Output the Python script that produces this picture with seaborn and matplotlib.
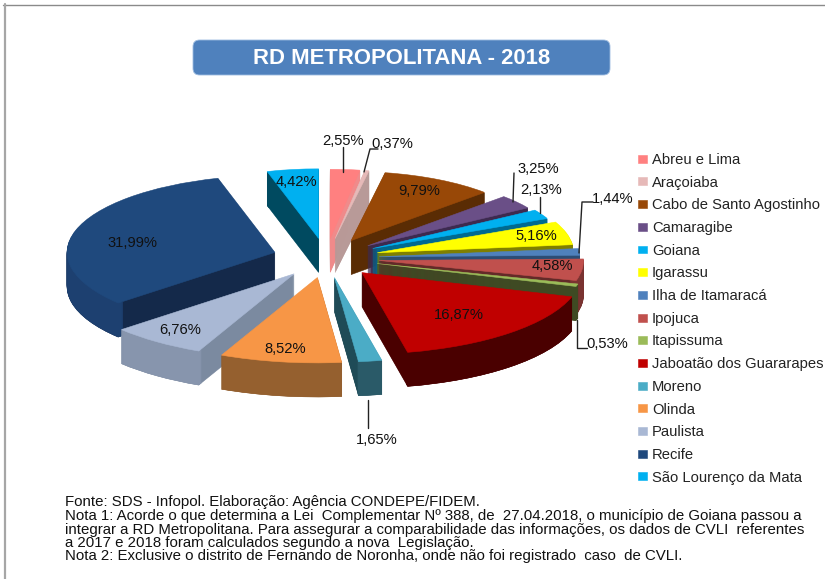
import numpy as np
import matplotlib
matplotlib.use("Agg")
import matplotlib.pyplot as plt
from matplotlib.lines import Line2D
from matplotlib.patches import FancyBboxPatch
import seaborn as sns

municipios = ["Abreu e Lima", "Araçoiaba", "Cabo de Santo Agostinho", "Camaragibe", "Goiana",
              "Igarassu", "Ilha de Itamaracá", "Ipojuca", "Itapissuma", "Jaboatão dos Guararapes",
              "Moreno", "Olinda", "Paulista", "Recife", "São Lourenço da Mata"]
percentuais = [2.55, 0.37, 9.79, 3.25, 2.13, 5.16, 1.44, 4.58, 0.53, 16.87, 1.65, 8.52, 6.76, 31.99, 4.42]
cores_topo = ["#ff8080", "#e6b9b8", "#984807", "#6a4f87", "#00b0f0", "#ffff00", "#4f81bd", "#c0504d",
              "#9bbb59", "#c00000", "#4bacc6", "#f79646", "#a9b8d4", "#1f497d", "#00b0f0"]
cores_radial = ["#f08a8a", "#b89a98", "#5a2c04", "#3d2a4f", "#006a90", "#7f7f00", "#2c4d75", "#632a28",
                "#3f4a23", "#4a0000", "#1f4b57", "#8a5a2c", "#7b8aa0", "#14294a", "#004a60"]
cores_arco = ["#f08a8a", "#b89a98", "#5a2c04", "#3d2a4f", "#006a90", "#7f7f00", "#2c4d75", "#7a3331",
              "#3f4a23", "#4a0000", "#2a5a68", "#95602f", "#8795ad", "#1d4070", "#004a60"]
titulo = "RD METROPOLITANA - 2018"
rodape = ["Fonte: SDS - Infopol. Elaboração: Agência CONDEPE/FIDEM.",
          "Nota 1: Acorde o que determina a Lei  Complementar Nº 388, de  27.04.2018, o município de Goiana passou a",
          "integrar a RD Metropolitana. Para assegurar a comparabilidade das informações, os dados de CVLI  referentes",
          "a 2017 e 2018 foram calculados segundo a nova  Legislação.",
          "Nota 2: Exclusive o distrito de Fernando de Noronha, onde não foi registrado  caso  de CVLI."]

W, H = 825, 579
CX, CY, SX, SY = 326, 258, 205, 76
DEPTH_PX = 34
EXPLODE = 0.26

sns.set_theme(style="white")
plt.rcParams["font.family"] = ["Liberation Sans", "DejaVu Sans"]

fig = plt.figure(figsize=(W / 100, H / 100), dpi=100, facecolor="white")
ax = fig.add_axes([0, 0, 1, 1])


def px(x, y):
    return x / W, 1 - y / H


vals = np.array(percentuais)
mids = np.deg2rad((np.cumsum(vals) - vals / 2) / vals.sum() * 360)
persp = 1.015 - 0.105 * np.cos(mids) - 0.03 * np.sin(mids)
rank = np.argsort(np.argsort(-np.cos(mids)))


def camada(cores, dy, z, width=None):
    wp = {"linewidth": 0.4}
    if width:
        wp["width"] = width
    wedges, _ = ax.pie(vals, colors=cores, explode=[EXPLODE] * len(vals), startangle=90,
                       counterclock=False, center=(0, dy), wedgeprops=wp, radius=1)
    for w, c, r, k in zip(wedges, cores, persp, rank):
        w.set_edgecolor(c)
        w.set_radius(r)
        w.set_zorder(10 + k * 10 + z)
    return wedges


for i in range(DEPTH_PX, 0, -1):
    camada(cores_radial, -i / SY, 1)
for i in range(DEPTH_PX, 0, -1):
    camada(cores_arco, -i / SY, 2, width=0.03)
topo = camada(cores_topo, 0, 3)

ax.set_aspect("auto")
ax.set_xlim(-CX / SX, (W - CX) / SX)
ax.set_ylim(-(H - CY) / SY, CY / SY)
ax.set_axis_off()

# moldura: só em cima e à esquerda
fig.add_artist(Line2D([0.004, 1], [1 - 4.5 / H] * 2, color="#8a8a8a", lw=1.0))
fig.add_artist(Line2D([4.5 / W] * 2, [0, 1 - 4 / H], color="#a6a6a6", lw=1.6))

# título
x0, y0 = px(193, 75)
fig.add_artist(FancyBboxPatch((x0, y0), 417 / W, 35 / H, boxstyle="round,pad=0,rounding_size=0.008",
                              fc="#4f81bd", ec="#9dbce0", lw=0.6, transform=fig.transFigure,
                              mutation_aspect=W / H))
fig.text(*px(401.5, 59), titulo, color="white", fontsize=15.9, fontweight="bold", ha="center", va="center")

# rótulos
rotulos = [f"{v:.2f}%".replace(".", ",") for v in percentuais]
pos_rotulos = [(343, 141), (392, 144), (419, 191), (538, 169), (541, 190), (536, 236), (613, 199), (552, 266),
               (607, 344), (459, 315), (377, 440), (285, 349), (180, 330), (133, 243), (296, 182)]
for t, p in zip(rotulos, pos_rotulos):
    fig.text(*px(*p), t, fontsize=10.6, color="#111111", ha="center", va="center", zorder=50)

# linhas de chamada
guias = [[(343, 147), (343, 172)],
         [(378, 149), (370, 149), (364, 172)],
         [(514, 173), (513, 202)],
         [(540, 197), (540, 213)],
         [(593, 202), (582, 202), (579, 253)],
         [(577, 320), (577, 348), (587, 348)],
         [(368, 400), (368, 428)]]
for g in guias:
    xs, ys = zip(*[px(*q) for q in g])
    fig.add_artist(Line2D(xs, ys, color="#222222", lw=1.0, zorder=50))

# legenda
fig.legend(topo, municipios, loc="upper left", bbox_to_anchor=px(638, 153), frameon=False, fontsize=10.6,
           handlelength=0.6, handleheight=0.45, handletextpad=0.35, labelspacing=0.59,
           borderpad=0, borderaxespad=0, labelcolor="#222222")

# rodapé
for t, y in zip(rodape, [502, 516, 530, 543, 556]):
    fig.text(*px(65, y), t, fontsize=10.8, color="#111111", ha="left", va="center")

fig.savefig("out.png", dpi=100, facecolor="white")
